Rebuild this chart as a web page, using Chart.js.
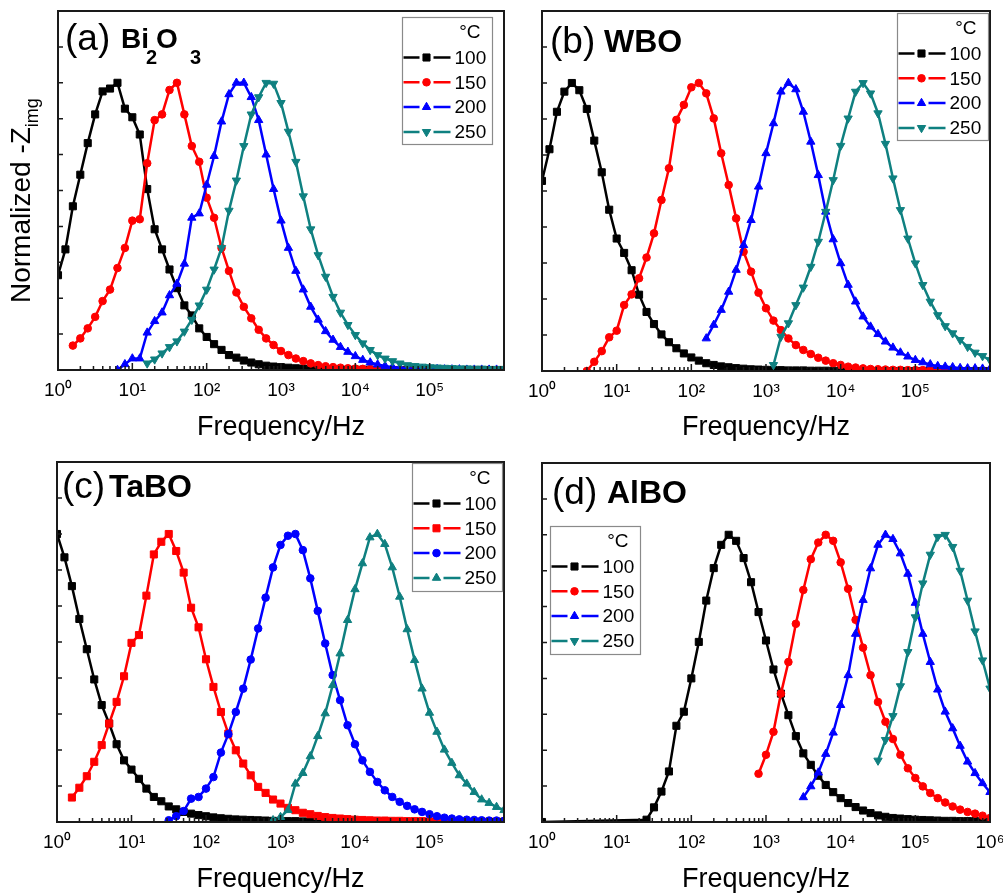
<!DOCTYPE html>
<html><head><meta charset="utf-8">
<script src="https://cdn.jsdelivr.net/npm/chart.js@4.4.0/dist/chart.umd.min.js"></script>
<style>
html,body{margin:0;padding:0;background:#fff;}
#wrap{position:relative;width:1003px;height:896px;overflow:hidden;background:#fff;}
canvas{position:absolute;}
svg{position:absolute;left:0;top:0;pointer-events:none;font-family:"Liberation Sans",Arial,sans-serif;}
</style></head><body>
<div id="wrap">
<canvas id="ca" width="510" height="444" style="left:0px;top:0px;width:510px;height:444px"></canvas>
<canvas id="cb" width="513" height="444" style="left:490px;top:0px;width:513px;height:444px"></canvas>
<canvas id="cc" width="510" height="456" style="left:0px;top:440px;width:510px;height:456px"></canvas>
<canvas id="cd" width="513" height="456" style="left:490px;top:440px;width:513px;height:456px"></canvas>
<svg width="1003" height="896">
  <text transform="translate(30,303) rotate(-90)" font-size="28" fill="#000">Normalized -Z<tspan font-size="18" dy="8">img</tspan></text>
  <text x="65" y="50" font-size="37" fill="#000">(a)</text>
  <text y="48" font-size="28" font-weight="bold" fill="#000"><tspan x="121">Bi</tspan><tspan x="146" font-size="20" dy="16">2</tspan><tspan x="156" font-size="28" dy="-16">O</tspan><tspan x="190" font-size="20" dy="16">3</tspan></text>
  <text x="550" y="53" font-size="37" fill="#000">(b)</text>
  <text x="604" y="52" font-size="32" font-weight="bold" fill="#000">WBO</text>
  <text x="62" y="498" font-size="37" fill="#000">(c)</text>
  <text x="109" y="497" font-size="32" font-weight="bold" fill="#000">TaBO</text>
  <text x="552" y="504" font-size="37" fill="#000">(d)</text>
  <text x="607" y="503" font-size="32" font-weight="bold" fill="#000">AlBO</text>
</svg>
</div>
<script>
// ---------- shared frequency grid (Hz), 10 points per decade ----------
const FREQ = [
  1, 1.259, 1.585, 1.995, 2.512, 3.162, 3.981, 5.012, 6.310, 7.943,
  10, 12.59, 15.85, 19.95, 25.12, 31.62, 39.81, 50.12, 63.10, 79.43,
  100, 125.9, 158.5, 199.5, 251.2, 316.2, 398.1, 501.2, 631.0, 794.3,
  1000, 1259, 1585, 1995, 2512, 3162, 3981, 5012, 6310, 7943,
  10000, 12589, 15849, 19953, 25119, 31623, 39811, 50119, 63096, 79433,
  100000, 125893, 158489, 199526, 251189, 316228, 398107, 501187, 630957, 794328,
  1000000
];
const TICK_VALUES = [1, 10, 100, 1000, 10000, 100000, 1000000];
const TICK_LABELS = ['10⁰', '10¹', '10²', '10³', '10⁴', '10⁵', '10⁶'];
const TEMPS = ['100', '150', '200', '250'];
const X_TITLE = 'Frequency/Hz';
const LEGEND_TITLE = '°C';

// ---------- (a) Bi2O3 ----------
const a100_start = 0;
const a100 = [0.33,0.42,0.57,0.68,0.79,0.89,0.97,0.98,1.00,0.91,
  0.88,0.82,0.63,0.49,0.42,0.35,0.285,0.225,0.19,0.145,
  0.115,0.09,0.07,0.052,0.043,0.033,0.026,0.02,0.015,0.012,
  0.01,0.008,0.006,0.005,0.004,0.003,0.002,0.002,0.001,0.001,
  0.001,0.001,0.001,0,0,0,0,0,0,0,
  0,0,0,0,0,0,0,0,0,0,0];
const a150_start = 2;
const a150 = [0.085,0.11,0.145,0.185,0.24,0.28,0.355,0.425,
  0.52,0.525,0.72,0.87,0.89,0.975,1.0,0.89,0.78,0.725,
  0.6,0.53,0.425,0.345,0.27,0.22,0.18,0.14,0.11,0.087,
  0.066,0.052,0.04,0.031,0.023,0.017,0.013,0.01,0.008,0.006,
  0.005,0.004,0.003,0.003,0.002,0.002,0.002,0.001,0.001,0.001,
  0.001,0.001,0.001,0,0,0,0,0,0,0,0];
const a200_start = 8;
const a200 = [0.0,0.02,
  0.04,0.04,0.13,0.17,0.2,0.26,0.3,0.37,0.53,0.545,
  0.645,0.745,0.865,0.96,1.0,1.0,0.95,0.87,0.75,0.63,
  0.52,0.425,0.345,0.28,0.22,0.175,0.135,0.105,0.08,0.063,
  0.048,0.035,0.026,0.019,0.014,0.01,0.008,0.006,0.005,0.004,
  0.003,0.003,0.002,0.002,0.002,0.001,0.001,0.001,0.001,0.001,0.001];
const a250_start = 12;
const a250 = [0.023,0.037,0.058,0.08,0.1,0.134,0.175,0.225,
  0.28,0.35,0.425,0.555,0.66,0.78,0.89,0.95,1.0,0.997,
  0.93,0.83,0.725,0.605,0.49,0.4,0.325,0.255,0.2,0.157,
  0.122,0.093,0.07,0.052,0.04,0.031,0.023,0.017,0.014,0.012,
  0.01,0.009,0.008,0.007,0.006,0.006,0.005,0.005,0.004,0.004,0.004];

// ---------- (b) WBO ----------
const b100_start = 0;
const b100 = [0.66,0.77,0.9,0.97,1.0,0.975,0.91,0.8,0.69,0.56,
  0.46,0.41,0.35,0.265,0.205,0.163,0.127,0.1,0.079,0.061,
  0.047,0.036,0.027,0.021,0.016,0.013,0.01,0.008,0.006,0.005,
  0.004,0.003,0.003,0.002,0.002,0.002,0.001,0.001,0.001,0.001,
  0.001,0,0,0,0,0,0,0,0,0,
  0,0,0,0,0,0,0,0,0,0,0];
const b150_start = 6;
const b150 = [0.0,0.032,0.069,0.117,
  0.14,0.229,0.266,0.322,0.394,0.478,0.594,0.704,0.872,0.924,
  0.985,1.0,0.964,0.877,0.756,0.646,0.53,0.414,0.345,0.272,
  0.218,0.175,0.142,0.113,0.09,0.073,0.059,0.046,0.036,0.027,
  0.021,0.015,0.012,0.009,0.007,0.006,0.005,0.004,0.004,0.003,
  0.003,0.003,0.002,0.002,0.002,0.002,0.002,0.001,0.001,0.001,0.001];
const b200_start = 22;
const b200 = [0.113,0.16,0.212,0.275,0.351,0.437,0.524,0.64,
  0.756,0.86,0.97,1.0,0.978,0.9,0.796,0.68,0.553,0.457,
  0.374,0.299,0.241,0.189,0.154,0.128,0.102,0.081,0.064,0.05,
  0.038,0.03,0.023,0.017,0.015,0.013,0.01,0.009,0.009,0.008,0.007];
const b250_start = 31;
const b250 = [0.021,0.119,0.166,0.229,0.29,0.362,0.449,0.553,0.663,
  0.782,0.877,0.97,1.0,0.964,0.895,0.789,0.669,0.559,0.46,
  0.374,0.299,0.241,0.194,0.156,0.131,0.108,0.084,0.064,0.052,0.038];

// ---------- (c) TaBO ----------
const c100_start = 0;
const c100 = [1.0,0.919,0.819,0.705,0.6,0.495,0.406,0.342,0.27,0.214,
  0.182,0.15,0.116,0.087,0.072,0.054,0.044,0.035,0.029,0.024,
  0.02,0.016,0.013,0.011,0.009,0.008,0.007,0.006,0.005,0.004,
  0.004,0.003,0.003,0.002,0.002,0.002,0.001,0.001,0.001,0.001,
  0.001,0,0,0,0,0,0,0,0,0,
  0,0,0,0,0,0,0,0,0,0,0];
const c150_start = 2;
const c150 = [0.085,0.119,0.159,0.209,0.267,0.342,0.417,0.506,
  0.622,0.649,0.786,0.929,0.973,1.0,0.941,0.866,0.744,0.676,
  0.565,0.469,0.382,0.307,0.249,0.203,0.162,0.122,0.101,0.078,
  0.064,0.049,0.041,0.032,0.027,0.021,0.017,0.014,0.012,0.01,
  0.008,0.007,0.006,0.005,0.005,0.004,0.004,0.003,0.003,0.003,
  0.002,0.002,0.002,0.002,0.002,0.001,0.001,0.001,0.001,0.001,0.001];
const c200_start = 15;
const c200 = [0.006,0.02,0.038,0.081,0.087,
  0.116,0.156,0.241,0.305,0.382,0.463,0.564,0.672,0.779,0.884,
  0.962,0.994,1.0,0.944,0.846,0.733,0.62,0.51,0.423,0.336,
  0.27,0.214,0.174,0.139,0.11,0.087,0.07,0.056,0.044,0.035,
  0.027,0.02,0.015,0.012,0.009,0.008,0.007,0.006,0.005,0.005,0.004];
const c250_start = 29;
const c250 = [0.006,
  0.017,0.041,0.133,0.17,0.228,0.298,0.377,0.475,0.585,0.701,
  0.808,0.898,0.988,1.0,0.965,0.884,0.782,0.669,0.562,0.463,
  0.379,0.313,0.251,0.205,0.162,0.133,0.104,0.078,0.066,0.052,0.041];

// ---------- (d) AlBO ----------
const d100_start = 0;
const d100 = [0,null,null,null,null,null,null,null,null,null,
  null,null,null,null,0.008,0.051,0.106,0.176,0.335,0.384,
  0.5,0.627,0.771,0.884,0.965,1.0,0.979,0.919,0.835,0.731,
  0.632,0.531,0.447,0.372,0.299,0.239,0.199,0.161,0.129,0.104,
  0.083,0.066,0.052,0.04,0.031,0.023,0.018,0.014,0.012,0.01,
  0.008,0.007,0.006,0.005,0.004,0.004,0.003,0.003,0.003,0.002,0.002];
const d150_start = 29;
const d150 = [0.168,
  0.234,0.314,0.447,0.557,0.69,0.808,0.915,0.973,1.0,0.979,
  0.904,0.812,0.704,0.607,0.511,0.418,0.349,0.289,0.234,0.187,
  0.153,0.124,0.101,0.083,0.068,0.054,0.043,0.035,0.029,0.022,0.014];
const d200_start = 35;
const d200 = [0.086,0.124,0.172,0.237,0.311,
  0.407,0.511,0.655,0.773,0.883,0.965,1.0,0.985,0.935,0.864,
  0.763,0.655,0.557,0.461,0.384,0.326,0.265,0.21,0.17,0.135,0.104];
const d250_start = 45;
const d250 = [0.214,0.286,0.369,0.473,0.592,
  0.713,0.831,0.931,0.993,1.0,0.958,0.875,0.771,0.664,0.563,0.465];

// ---------- helpers ----------
const FONT = '"Liberation Sans", Arial, sans-serif';
const COLORS = ['#000000', '#ff0000', '#0000ff', '#0f8080'];

function toPoints(start, vals) {
  const out = [];
  vals.forEach((v, i) => {
    const f = FREQ[start + i];
    if (v !== null && f !== undefined) out.push({ x: f, y: v });
  });
  return out;
}

const MARKERS_STD = [['rect', 0, 5], ['circle', 0, 3.8], ['triangle', 0, 4.8], ['triangle', 180, 4.8]];
const MARKERS_C = [['rect', 0, 5], ['rect', 0, 5], ['circle', 0, 3.8], ['triangle', 0, 4.8]];

function makeDatasets(series, markers) {
  return series.map((s, i) => ({
    label: TEMPS[i],
    data: toPoints(s[0], s[1]),
    borderColor: COLORS[i],
    backgroundColor: COLORS[i],
    borderWidth: 2.5,
    pointStyle: markers[i][0],
    pointRotation: markers[i][1],
    pointRadius: markers[i][2],
    pointBorderWidth: 1,
    pointHoverRadius: markers[i][2],
    tension: 0,
    order: -i
  }));
}

const framePlugin = {
  id: 'frameTicks',
  afterDatasetsDraw(chart) {
    const ctx = chart.ctx, a = chart.chartArea, x = chart.scales.x, y = chart.scales.y;
    ctx.save();
    ctx.strokeStyle = '#1a1a1a';
    ctx.lineWidth = 1.5;
    ctx.beginPath();
    TICK_VALUES.forEach((v, k) => {
      const px = x.getPixelForValue(v);
      ctx.moveTo(px, a.bottom); ctx.lineTo(px, a.bottom - 7);
      if (k < TICK_VALUES.length - 1) {
        for (let m = 2; m <= 9; m++) {
          const pm = x.getPixelForValue(m * v);
          if (pm >= a.right) break;
          ctx.moveTo(pm, a.bottom); ctx.lineTo(pm, a.bottom - 4);
        }
      }
    });
    y.ticks.forEach(t => {
      if (t.value <= 0 || t.value >= y.max) return;
      const py = y.getPixelForValue(t.value);
      ctx.moveTo(a.left, py); ctx.lineTo(a.left + 5, py);
    });
    ctx.stroke();
    ctx.lineWidth = 2;
    ctx.strokeRect(a.left, a.top, a.right - a.left, a.bottom - a.top);
    ctx.restore();
  }
};

const legendPlugin = {
  id: 'boxLegend',
  afterDraw(chart, args, opts) {
    const ctx = chart.ctx, a = chart.chartArea;
    const bx = Math.round(a.left + opts.dx) + 0.5, by = Math.round(a.top + opts.dy) + 0.5;
    const w = opts.w, h = opts.h;
    ctx.save();
    ctx.fillStyle = '#ffffff';
    ctx.fillRect(bx, by, w, h);
    ctx.strokeStyle = '#8a8a8a';
    ctx.lineWidth = 1.2;
    ctx.strokeRect(bx, by, w, h);
    ctx.font = '19px ' + FONT;
    ctx.fillStyle = '#000';
    ctx.textBaseline = 'middle';
    ctx.textAlign = 'right';
    ctx.fillText(LEGEND_TITLE, bx + w - 12, by + 15);
    ctx.textAlign = 'left';
    chart.data.datasets.forEach((ds, i) => {
      const yy = by + 40 + i * 24.8;
      ctx.strokeStyle = ds.borderColor;
      ctx.lineWidth = 2.5;
      ctx.beginPath();
      ctx.moveTo(bx + 1, yy); ctx.lineTo(bx + 17, yy);
      ctx.moveTo(bx + 31, yy); ctx.lineTo(bx + 48, yy);
      ctx.stroke();
      ctx.fillStyle = ds.backgroundColor;
      ctx.lineWidth = 1;
      Chart.helpers.drawPoint(ctx, { pointStyle: ds.pointStyle, radius: ds.pointRadius, rotation: ds.pointRotation, borderWidth: 1 }, bx + 24, yy);
      ctx.fillStyle = '#000';
      ctx.fillText(ds.label, bx + 52, yy + 1);
    });
    ctx.restore();
  }
};

function makeChart(id, series, markers, cfg) {
  const showLast = cfg.showLast;
  return new Chart(document.getElementById(id), {
    type: 'line',
    data: { datasets: makeDatasets(series, markers) },
    plugins: [framePlugin, legendPlugin],
    options: {
      responsive: false,
      animation: false,
      events: [],
      layout: { padding: { left: 0, top: cfg.top, right: cfg.right, bottom: 0 } },
      plugins: {
        legend: { display: false },
        tooltip: { enabled: false },
        boxLegend: cfg.legend
      },
      scales: {
        x: {
          type: 'logarithmic',
          min: 1, max: 1000000,
          afterBuildTicks(s) { s.ticks = TICK_VALUES.map(v => ({ value: v })); },
          afterFit(s) { s.height = cfg.xH; s.paddingLeft = 0; s.paddingRight = 0; },
          grid: { display: false, drawTicks: false },
          border: { display: false },
          ticks: {
            autoSkip: false, maxRotation: 0, minRotation: 0, padding: 9,
            color: '#000', font: { family: FONT, size: 19 },
            callback(value) {
              const k = TICK_VALUES.indexOf(value);
              if (k < 0) return '';
              if (k === TICK_VALUES.length - 1 && !showLast) return '';
              return TICK_LABELS[k];
            }
          },
          title: { display: true, text: X_TITLE, color: '#000', font: { family: FONT, size: 27 }, padding: { top: 0, bottom: 0 } }
        },
        y: {
          min: 0, max: 1.25,
          afterFit(s) { s.width = cfg.yW; s.paddingTop = 0; s.paddingBottom = 0; },
          grid: { display: false, drawTicks: false },
          border: { display: false },
          ticks: { display: false, stepSize: 0.125 }
        }
      }
    }
  });
}

makeChart('ca',
  [[a100_start, a100], [a150_start, a150], [a200_start, a200], [a250_start, a250]],
  MARKERS_STD,
  { top: 11, right: 5, yW: 58, xH: 74, showLast: false, legend: { dx: 344, dy: 6, w: 90, h: 127 } });
makeChart('cb',
  [[b100_start, b100], [b150_start, b150], [b200_start, b200], [b250_start, b250]],
  MARKERS_STD,
  { top: 11, right: 13, yW: 52, xH: 73, showLast: false, legend: { dx: 355, dy: 2, w: 91, h: 127 } });
makeChart('cc',
  [[c100_start, c100], [c150_start, c150], [c200_start, c200], [c250_start, c250]],
  MARKERS_C,
  { top: 22, right: 4, yW: 57, xH: 74, showLast: false, legend: { dx: 355, dy: 1, w: 90, h: 128 } });
makeChart('cd',
  [[d100_start, d100], [d150_start, d150], [d200_start, d200], [d250_start, d250]],
  MARKERS_STD,
  { top: 23, right: 13, yW: 52, xH: 74, showLast: true, legend: { dx: 8, dy: 63, w: 90, h: 128 } });
</script>
</body></html>
